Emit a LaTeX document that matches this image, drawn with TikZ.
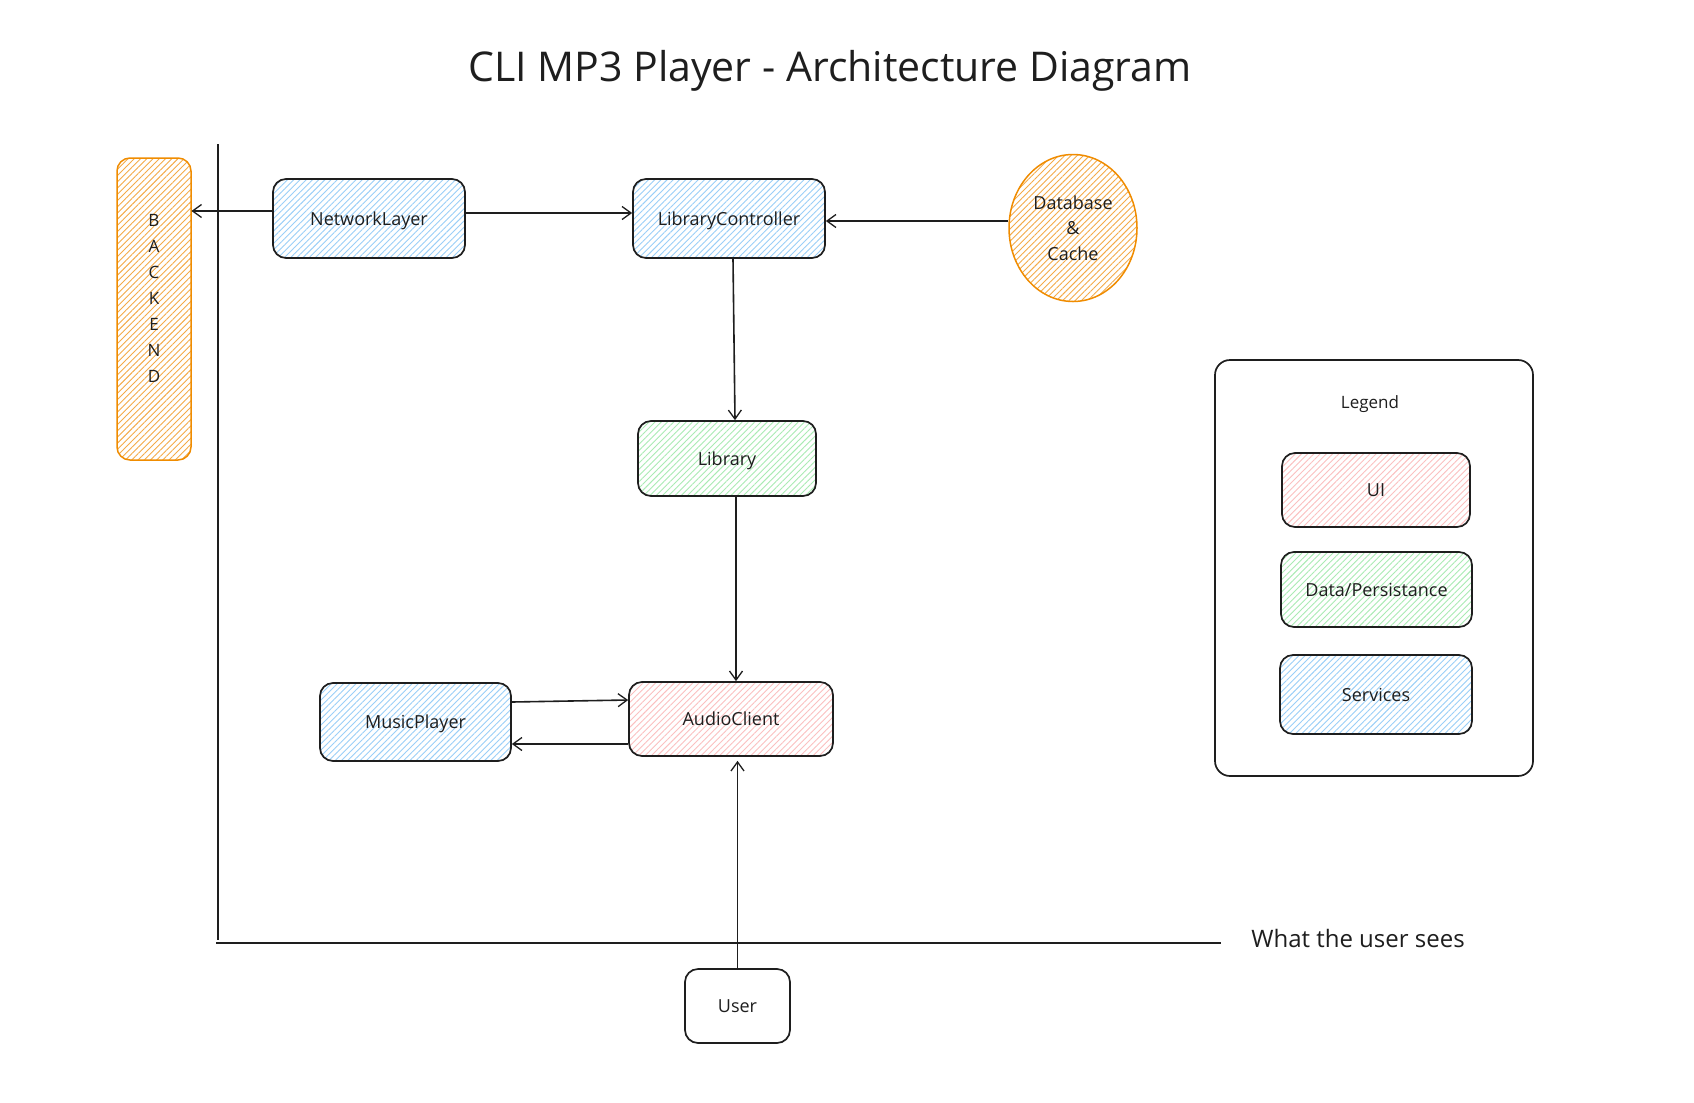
\documentclass[tikz,border=0pt]{standalone}
\usepackage{fontspec}
\setmainfont{Open Sans}
\usetikzlibrary{arrows.meta,patterns.meta,shapes.geometric}
\definecolor{ink}{HTML}{1E1E1E}
\definecolor{hblue}{HTML}{9ACFF8}
\definecolor{hred}{HTML}{FBC0C0}
\definecolor{hgreen}{HTML}{A9EBB3}
\definecolor{horange}{HTML}{F4AA48}
\definecolor{sorange}{HTML}{F08C00}
\tikzset{
  hatch/.style={pattern={Lines[angle=45,distance=4.4bp,line width=0.9bp]}, pattern color=#1},
  box/.style={draw=ink, line width=1.7bp, rounded corners=13bp, inner sep=0pt,
    font=\fontsize{18bp}{22bp}\selectfont, text=ink, text height=13bp, text depth=0pt},
  svc/.style={box, hatch=hblue},
  uibox/.style={box, hatch=hred},
  databox/.style={box, hatch=hgreen},
  arr/.style={draw=ink, line width=1.6bp, -{Straight Barb[length=9bp,width=13bp,line width=1.3bp]}},
  rule/.style={draw=ink, line width=1.7bp},
  lbl/.style={text=ink, inner sep=0pt}
}
\begin{document}
\begin{tikzpicture}[x=1bp,y=-1bp]
\useasboundingbox (0,0) rectangle (1694,1102);
\fill[white] (0,0) rectangle (1694,1102);

% title
\node[lbl, font=\fontsize{41bp}{48bp}\selectfont] (title) at (830,71) {CLI MP3 Player - Architecture Diagram};

% boundary lines
\coordinate (vtop) at (218,144);
\coordinate (vbot) at (218,940);
\coordinate (hl) at (216,943);
\coordinate (hr) at (1221,943);
\draw[rule] (vtop) -- (vbot);
\draw[rule] (hl) -- (hr);
\node[lbl, font=\fontsize{24bp}{28bp}\selectfont] (sees) at (1358,938) {What the user sees};

% backend
\node[draw=sorange, line width=1.5bp, rounded corners=13bp, hatch=horange,
  minimum width=74bp, minimum height=302bp, inner sep=0pt] (back) at (154,309) {};
\foreach \l [count=\i from 0] in {B,A,C,K,E,N,D}
  \node[lbl, font=\fontsize{17bp}{20bp}\selectfont] (back\i) at (154,220+26*\i) {\l};

% service nodes
\node[svc, minimum width=192bp, minimum height=79bp] (net) at (369,218.5) {NetworkLayer};
\node[svc, minimum width=192bp, minimum height=79bp] (lc) at (729,218.5) {LibraryController};
\node[databox, minimum width=178bp, minimum height=75bp] (lib) at (727,458.5) {Library};
\node[uibox, minimum width=204bp, minimum height=74bp] (ac) at (731,719) {AudioClient};
\node[svc, minimum width=191bp, minimum height=78bp] (mp) at (415.5,722) {MusicPlayer};
\node[box, minimum width=105bp, minimum height=74bp] (user) at (737.5,1006) {User};

% database ellipse
\node[ellipse, draw=sorange, line width=1.5bp, hatch=horange, minimum width=128bp,
  minimum height=147bp, inner sep=0pt, align=center, text=ink,
  font=\fontsize{18bp}{25.5bp}\selectfont] (db) at (1073,228) {Database\\\&\\Cache};

% legend
\node[draw=ink, line width=1.7bp, rounded corners=15bp, minimum width=318bp,
  minimum height=416bp, inner sep=0pt] (legend) at (1374,568) {};
\node[lbl, font=\fontsize{17bp}{20bp}\selectfont] (legendt) at (1370,404) {Legend};
\node[uibox, minimum width=188bp, minimum height=74bp] (lui) at (1376,490) {UI};
\node[databox, minimum width=191bp, minimum height=75bp] (ldata) at (1376.5,589.5) {Data/Persistance};
\node[svc, minimum width=192bp, minimum height=79bp] (lsvc) at (1376,694.5) {Services};

% connectors
\coordinate (n1) at ([yshift=7.5bp]net.west);
\draw[arr] (n1) -- (n1 -| back.east);
\coordinate (n2) at ([yshift=5.5bp]net.east);
\draw[arr] (n2) -- (n2 -| lc.west);
\coordinate (d1) at ([yshift=7bp]db.west);
\draw[arr] (d1) -- (d1 -| lc.east);
\coordinate (c1) at ([xshift=4bp]lc.south);
\coordinate (c2) at ([xshift=8bp]lib.north);
\draw[arr] (c1) -- (c2);
\coordinate (l1) at ([xshift=9bp]lib.south);
\draw[arr] (l1) -- (l1 |- ac.north);
\coordinate (m1) at ([yshift=20bp]mp.east);
\draw[arr] (m1) -- ([yshift=2bp]m1 -| ac.west);
\coordinate (a1) at ([yshift=-25bp]ac.west);
\draw[arr] (a1) -- (a1 -| mp.east);
\draw[arr, shorten >=4bp] (user.north) -- (user.north |- ac.south);
\end{tikzpicture}
\end{document}
